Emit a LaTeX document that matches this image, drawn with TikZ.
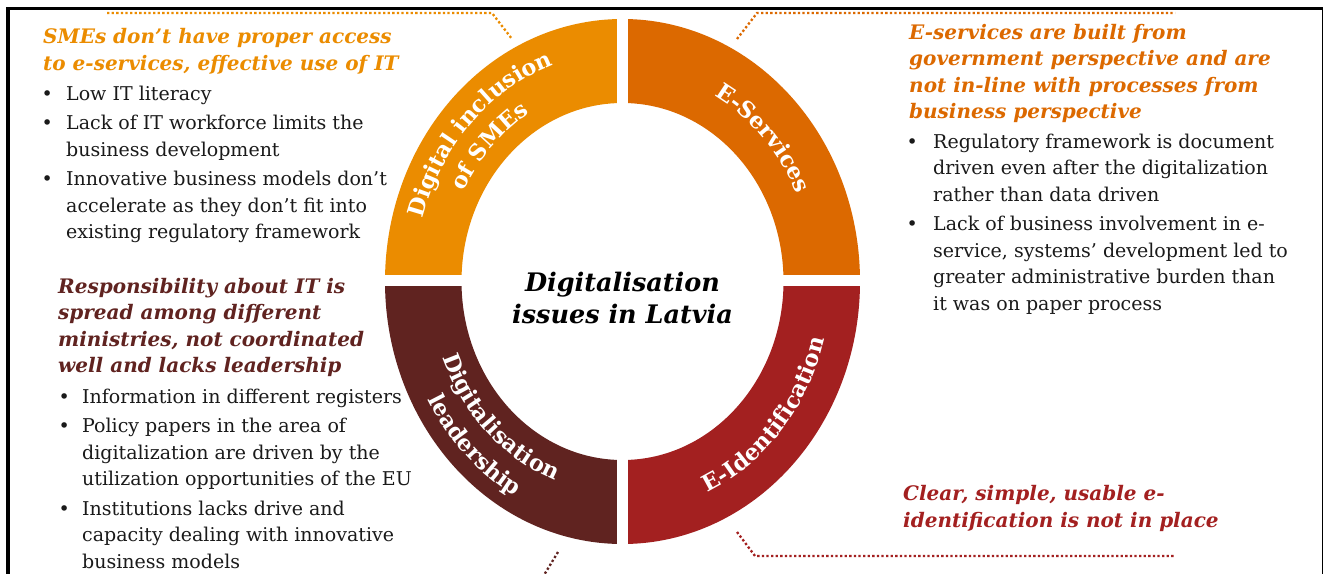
\documentclass[tikz,border=0pt]{standalone}
\usepackage{fontspec}
\setmainfont{DejaVu Serif}
\usetikzlibrary{decorations.text}

\definecolor{pwcOrange}{HTML}{EB8C00}
\definecolor{pwcTangerine}{HTML}{DC6900}
\definecolor{pwcRed}{HTML}{A32020}
\definecolor{pwcBurgundy}{HTML}{602320}
\definecolor{bodyInk}{HTML}{1A1A1A}

\newcommand{\headfont}{\fontsize{20}{26.5}\selectfont\bfseries\itshape}
\newcommand{\bodyfont}{\fontsize{19}{26.5}\selectfont}
\newcommand{\ringfont}{\fontsize{22.5}{26}\selectfont\bfseries}
\newcommand{\titlefont}{\fontsize{25.5}{32}\selectfont\bfseries\itshape}

\tikzset{
  heading/.style={anchor=base west, inner sep=0pt, font=\headfont},
  bullets/.style={anchor=base west, inner sep=0pt, font=\bodyfont, text=bodyInk},
  leader/.style={line width=2.3pt, dash pattern=on 2.3pt off 2.3pt},
  gapline/.style={white, line width=11pt},
  ringtext/.style={decorate, decoration={text along path, text align=center,
      text color=white, text={|\ringfont|#1}}}
}

\begin{document}
\begin{tikzpicture}[x=1pt, y=1pt]
\useasboundingbox (0,0) rectangle (1324,-573);
\fill[white] (0,0) rectangle (1324,-573);

% frame
\draw[line width=3.5pt] (8,-590) -- (8,-8.3) -- (1322.5,-8.3);
\draw[line width=1.3pt] (1322.5,-8.3) -- (1322.5,-590);

% ring of four segments
\begin{scope}[shift={(622.5,-281.5)}]
  \fill[pwcOrange] (180:237.5 and 262.5) arc[start angle=180, end angle=90, x radius=237.5, y radius=262.5]
     -- (90:161 and 178.5) arc[start angle=90, end angle=180, x radius=161, y radius=178.5] -- cycle;
  \fill[pwcTangerine] (90:237.5 and 262.5) arc[start angle=90, end angle=0, x radius=237.5, y radius=262.5]
     -- (0:161 and 178.5) arc[start angle=0, end angle=90, x radius=161, y radius=178.5] -- cycle;
  \fill[pwcRed] (0:237.5 and 262.5) arc[start angle=0, end angle=-90, x radius=237.5, y radius=262.5]
     -- (-90:161 and 178.5) arc[start angle=-90, end angle=0, x radius=161, y radius=178.5] -- cycle;
  \fill[pwcBurgundy] (-90:237.5 and 262.5) arc[start angle=-90, end angle=-180, x radius=237.5, y radius=262.5]
     -- (-180:161 and 178.5) arc[start angle=-180, end angle=-90, x radius=161, y radius=178.5] -- cycle;
  % separating gaps
  \draw[gapline] (-245,1) -- (-150,1);
  \draw[gapline] (150,1) -- (245,1);
  \draw[gapline] (0,270) -- (0,170);
  \draw[gapline] (0,-270) -- (0,-170);
  % curved segment labels
  \path[ringtext={Digital inclusion}] (178:207.8 and 229.7) arc[start angle=178, end angle=94, x radius=207.8, y radius=229.7];
  \path[ringtext={of SMEs}] (178:178.1 and 196.9) arc[start angle=178, end angle=94, x radius=178.1, y radius=196.9];
  \path[ringtext={E-Services}] (88:191.4 and 211.6) arc[start angle=88, end angle=0, x radius=191.4, y radius=211.6];
  \path[ringtext={E-Identification}] (-84:208.8 and 230.8) arc[start angle=-84, end angle=2, x radius=208.8, y radius=230.8];
  \path[ringtext={Digitalisation}] (-178:192.4 and 212.6) arc[start angle=-178, end angle=-90, x radius=192.4, y radius=212.6];
  \path[ringtext={leadership}] (-178:222.1 and 245.4) arc[start angle=-178, end angle=-90, x radius=222.1, y radius=245.4];
\end{scope}

% centre title
\node[anchor=base, inner sep=0pt, font=\titlefont] (title) at (622.5,-291)
  {\begin{tabular}[t]{@{}c@{}}Digitalisation\\issues in Latvia\end{tabular}};

% top-left: SMEs
\node[heading, text=pwcOrange] (smeHead) at (43,-43.5)
  {\begin{tabular}[t]{@{}l@{}}SMEs don’t have proper access\\to e-services, effective use of IT\end{tabular}};
\node[bullets] (smeList) at (41.5,-100)
  {\begin{tabular}[t]{@{}p{24.5pt}@{}l@{}}
   \textbullet & Low IT literacy\\[3pt]
   \textbullet & Lack of IT workforce limits the\\
               & business development\\[3pt]
   \textbullet & Innovative business models don’t\\
               & accelerate as they don’t fit into\\
               & existing regulatory framework
   \end{tabular}};

% top-right: e-services
\node[heading, text=pwcTangerine] (servHead) at (909,-39)
  {\begin{tabular}[t]{@{}l@{}}E-services are built from\\government perspective and are\\not in-line with processes from\\business perspective\end{tabular}};
\node[bullets] (servList) at (906.5,-148)
  {\begin{tabular}[t]{@{}p{26.5pt}@{}l@{}}
   \textbullet & Regulatory framework is document\\
               & driven even after the digitalization\\
               & rather than data driven\\[3pt]
   \textbullet & Lack of business involvement in e-\\
               & service, systems’ development led to\\
               & greater administrative burden than\\
               & it was on paper process
   \end{tabular}};

% bottom-left: leadership
\node[heading, text=pwcBurgundy] (leadHead) at (58,-293)
  {\begin{tabular}[t]{@{}l@{}}Responsibility about IT is\\spread among different\\ministries, not coordinated\\well and lacks leadership\end{tabular}};
\node[bullets] (leadList) at (58.5,-403)
  {\begin{tabular}[t]{@{}p{23.5pt}@{}l@{}}
   \textbullet & Information in different registers\\[3pt]
   \textbullet & Policy papers in the area of\\
               & digitalization are driven by the\\
               & utilization opportunities of the EU\\[3pt]
   \textbullet & Institutions lacks drive and\\
               & capacity dealing with innovative\\
               & business models
   \end{tabular}};

% bottom-right: e-identification
\node[heading, text=pwcRed] (idHead) at (903,-500.7)
  {\begin{tabular}[t]{@{}l@{}}Clear, simple, usable e-\\identification is not in place\end{tabular}};

% dotted leaders from the headings to the ring
\coordinate (smeA) at (107,-13);
\coordinate (smeB) at (492,-13);
\coordinate (smeC) at (512,-39);
\draw[leader, pwcOrange] (smeA) -- (smeB) -- (smeC);

\coordinate (servA) at (737,-39);
\coordinate (servB) at (757,-13);
\coordinate (servC) at (1175,-13);
\draw[leader, pwcTangerine] (servA) -- (servB) -- (servC);

\coordinate (idA) at (737,-532);
\coordinate (idB) at (755,-556);
\coordinate (idC) at (1175,-556);
\draw[leader, pwcRed] (idA) -- (idB) -- (idC);

\coordinate (leadA) at (558,-552);
\coordinate (leadB) at (541,-580);
\draw[leader, pwcBurgundy] (leadA) -- (leadB);
\end{tikzpicture}
\end{document}
